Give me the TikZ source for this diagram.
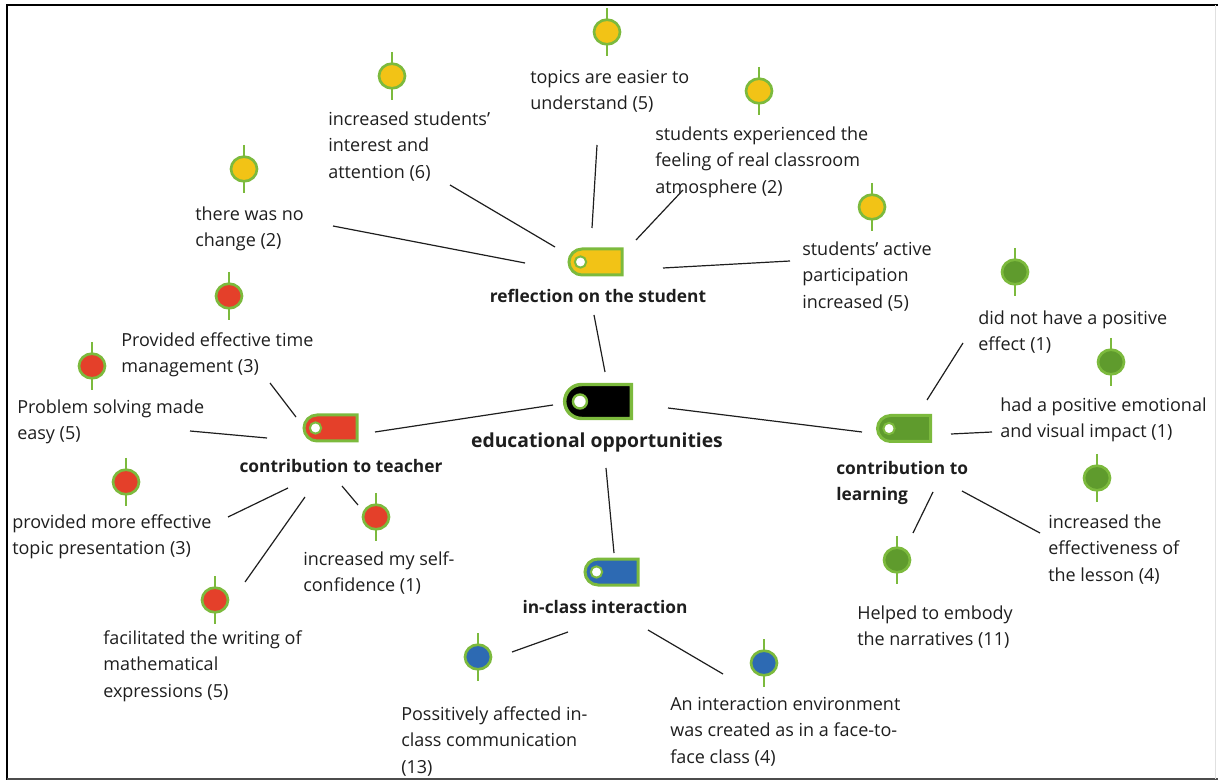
\documentclass[tikz,border=0pt]{standalone}
\usepackage{fontspec}
\setmainfont{Open Sans}
\usetikzlibrary{shapes.misc,shapes.geometric}
\definecolor{rim}{HTML}{7CBA3D}
\definecolor{cyellow}{HTML}{F2C316}
\definecolor{cred}{HTML}{E4402A}
\definecolor{cgreen}{HTML}{5F9B2D}
\definecolor{cblue}{HTML}{2D6AB3}
\definecolor{ink}{HTML}{1E1E1E}

\tikzset{
  tagbox/.style={rounded rectangle, rounded rectangle right arc=none, draw=rim,
    line width=2.25pt, minimum width=39.75pt, minimum height=19.5pt, inner sep=0pt},
  bigtag/.style={tagbox, minimum width=50pt, minimum height=25.5pt, line width=2.6pt},
  hole/.style={circle, fill=white, draw=rim, line width=1.5pt, inner sep=0pt, minimum size=8.5pt},
  pinhead/.style={ellipse, draw=rim, line width=2pt, inner sep=0pt,
    minimum width=19.5pt, minimum height=18.5pt},
  stem/.style={draw=rim, line width=2pt},
  % labels are placed by the baseline of their last line
  lbl/.style={align=left, anchor=base west, inner sep=0pt, yshift=-1.5pt,
    font=\fontsize{13.5}{20}\selectfont, text=ink},
  head/.style={font=\bfseries\fontsize{13}{20}\selectfont, inner sep=0pt, yshift=-1.5pt,
    anchor=base, align=center, text=ink},
  link/.style={draw=ink, line width=0.9pt},
}

% pin: stem behind an elliptic head
\newcommand\pinmark[4]{%
  \draw[stem] (#2,#3-24) -- (#2,#3+24);
  \node[pinhead, fill=#4] (#1) at (#2,#3) {};}

\begin{document}
\begin{tikzpicture}[x=0.75pt,y=-0.75pt]
\useasboundingbox (0,0) rectangle (1218,780);

% frame
\draw[line width=1.9pt] (7,780) -- (7,5) -- (1218,5);
\draw[black!70, line width=0.9pt] (7,779) -- (1218,779);
\draw[black!12, line width=0.9pt] (1215.5,5) -- (1215.5,779);

% ---------- centre ----------
\node[bigtag, fill=black] (core) at (598,401.5) {};
\node[hole, minimum size=10.5pt, line width=1.8pt] (coreh) at ([xshift=12.75pt]core.west) {};
\node[head, font=\bfseries\fontsize{14.5}{20}\selectfont] (coret) at (597,446) {educational opportunities};

% ---------- reflection on the student ----------
\node[tagbox, fill=cyellow] (ref) at (595.5,262) {};
\node[hole] (refh) at ([xshift=9.75pt]ref.west) {};
\node[head] (reft) at (598,301) {reflection on the student};

\pinmark{py1}{607}{32}{cyellow}
\pinmark{py2}{392}{76}{cyellow}
\pinmark{py3}{759}{91}{cyellow}
\pinmark{py4}{244}{169}{cyellow}
\pinmark{py5}{872}{207}{cyellow}

\node[lbl] (ly1) at (530,107.7) {topics are easier to\\understand (5)};
\node[lbl] (ly2) at (328,176.4) {increased students'\\interest and\\attention (6)};
\node[lbl] (ly3) at (655,191.4) {students experienced the\\feeling of real classroom\\atmosphere (2)};
\node[lbl] (ly4) at (195,244.7) {there was no\\change (2)};
\node[lbl] (ly5) at (802,306.4) {students' active\\participation\\increased (5)};

\coordinate (y1a) at (597,145); \coordinate (y1b) at (592,228);
\coordinate (y2a) at (450,185); \coordinate (y2b) at (555,247);
\coordinate (y3a) at (683,190); \coordinate (y3b) at (636,240);
\coordinate (y4a) at (333,226); \coordinate (y4b) at (525,263);
\coordinate (y5a) at (790,261); \coordinate (y5b) at (663,268);
\coordinate (y0a) at (594,315); \coordinate (y0b) at (605,372);
\foreach \k in {0,...,5}{\draw[link] (y\k a) -- (y\k b);}

% ---------- contribution to teacher ----------
\node[tagbox, fill=cred] (tea) at (330.5,428) {};
\node[hole] (teah) at ([xshift=9.75pt]tea.west) {};
\node[head] (teat) at (341,471) {contribution to teacher};

\pinmark{pr1}{229}{296}{cred}
\pinmark{pr2}{92}{366}{cred}
\pinmark{pr3}{126}{482}{cred}
\pinmark{pr4}{376}{517}{cred}
\pinmark{pr5}{215}{600}{cred}

\node[lbl] (lr1) at (121,370.7) {Provided effective time\\management (3)};
\node[lbl] (lr2) at (17,437.7) {Problem solving made\\easy (5)};
\node[lbl] (lr3) at (12,552.7) {provided more effective\\topic presentation (3)};
\node[lbl] (lr4) at (303,589.7) {increased my self-\\confidence (1)};
\node[lbl] (lr5) at (103,695.4) {facilitated the writing of\\mathematical\\expressions (5)};

\coordinate (r1a) at (270,383); \coordinate (r1b) at (296,417);
\coordinate (r2a) at (190,431); \coordinate (r2b) at (267,438);
\coordinate (r3a) at (228,517); \coordinate (r3b) at (288,488);
\coordinate (r4a) at (342,486); \coordinate (r4b) at (358,505);
\coordinate (r5a) at (245,582); \coordinate (r5b) at (305,497);
\coordinate (r0a) at (375,432); \coordinate (r0b) at (553,405);
\foreach \k in {0,...,5}{\draw[link] (r\k a) -- (r\k b);}

% ---------- contribution to learning ----------
\node[tagbox, fill=cgreen] (lea) at (904,428.5) {};
\node[hole] (leah) at ([xshift=9.75pt]lea.west) {};
\node[head, anchor=base west, align=left] (leat) at (836,498.7) {contribution to\\learning};

\pinmark{pg1}{1015}{272}{cgreen}
\pinmark{pg2}{1111}{362}{cgreen}
\pinmark{pg3}{1097}{478}{cgreen}
\pinmark{pg4}{897}{560}{cgreen}

\node[lbl] (lg1) at (978,348.7) {did not have a positive\\effect (1)};
\node[lbl] (lg2) at (1000,435.7) {had a positive emotional\\and visual impact (1)};
\node[lbl] (lg3) at (1048,579.4) {increased the\\effectiveness of\\the lesson (4)};
\node[lbl] (lg4) at (857,643.7) {Helped to embody\\the narratives (11)};

\coordinate (g1a) at (963,343); \coordinate (g1b) at (927,400);
\coordinate (g2a) at (992,432); \coordinate (g2b) at (951,434);
\coordinate (g3a) at (1040,533); \coordinate (g3b) at (962,491);
\coordinate (g4a) at (913,533); \coordinate (g4b) at (933,492);
\coordinate (g0a) at (668,408); \coordinate (g0b) at (862,432);
\foreach \k in {0,...,4}{\draw[link] (g\k a) -- (g\k b);}

% ---------- in-class interaction ----------
\node[tagbox, fill=cblue] (int) at (611.5,572) {};
\node[hole] (inth) at ([xshift=9.75pt]int.west) {};
\node[head] (intt) at (605,612) {in-class interaction};

\pinmark{pb1}{478}{657}{cblue}
\pinmark{pb2}{764}{663}{cblue}

\node[lbl] (lb1) at (401,771.4) {Possitively affected in-\\class communication\\(13)};
\node[lbl] (lb2) at (670,761.4) {An interaction environment\\was created as in a face-to-\\face class (4)};

\coordinate (b1a) at (512,652); \coordinate (b1b) at (568,632);
\coordinate (b2a) at (723,674); \coordinate (b2b) at (648,630);
\coordinate (b0a) at (606,468); \coordinate (b0b) at (614,553);
\foreach \k in {0,...,2}{\draw[link] (b\k a) -- (b\k b);}
\end{tikzpicture}
\end{document}
